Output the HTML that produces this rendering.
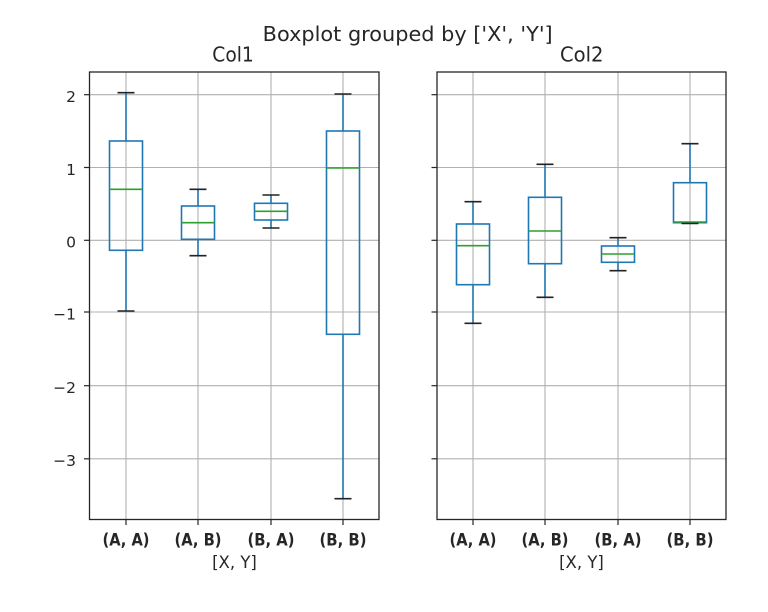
<!DOCTYPE html>
<html>
<head>
<meta charset="utf-8">
<style>
html,body{margin:0;padding:0;background:#fff;}
svg{display:block;}
text{font-family:"DejaVu Sans","Liberation Sans",sans-serif;fill:#262626;}
</style>
</head>
<body>
<svg width="768" height="612" viewBox="0 0 768 612" xmlns="http://www.w3.org/2000/svg">
<rect x="0" y="0" width="768" height="612" fill="#fff"/>

<!-- Titles -->
<text x="262.7" y="41" font-size="20.5" textLength="290" lengthAdjust="spacingAndGlyphs">Boxplot grouped by ['X', 'Y']</text>
<text x="212.3" y="61.7" font-size="20" textLength="41.5" lengthAdjust="spacingAndGlyphs">Col1</text>
<text x="560" y="61.7" font-size="20" textLength="43.5" lengthAdjust="spacingAndGlyphs">Col2</text>

<!-- ===== Left axes ===== -->
<g stroke="#b0b0b0" stroke-width="1.1" fill="none">
  <line x1="89.5" y1="94.7" x2="379" y2="94.7"/>
  <line x1="89.5" y1="167.5" x2="379" y2="167.5"/>
  <line x1="89.5" y1="240.3" x2="379" y2="240.3"/>
  <line x1="89.5" y1="312" x2="379" y2="312"/>
  <line x1="89.5" y1="385.7" x2="379" y2="385.7"/>
  <line x1="89.5" y1="458.8" x2="379" y2="458.8"/>
  <line x1="126" y1="72" x2="126" y2="519.5"/>
  <line x1="198" y1="72" x2="198" y2="519.5"/>
  <line x1="271" y1="72" x2="271" y2="519.5"/>
  <line x1="343" y1="72" x2="343" y2="519.5"/>
</g>

<!-- left boxes -->
<g stroke-width="1.6" fill="none">
  <!-- (A,A) -->
  <line x1="126" y1="92.7" x2="126" y2="141" stroke="#1f77b4"/>
  <line x1="126" y1="250.3" x2="126" y2="311" stroke="#1f77b4"/>
  <rect x="109.5" y="141" width="33" height="109.3" stroke="#1f77b4"/>
  <line x1="109.5" y1="189.3" x2="142.5" y2="189.3" stroke="#2ca02c"/>
  <line x1="117.5" y1="92.7" x2="134.5" y2="92.7" stroke="#222"/>
  <line x1="117.5" y1="311" x2="134.5" y2="311" stroke="#222"/>
  <!-- (A,B) -->
  <line x1="198" y1="189.3" x2="198" y2="206" stroke="#1f77b4"/>
  <line x1="198" y1="239.3" x2="198" y2="255.7" stroke="#1f77b4"/>
  <rect x="181.5" y="206" width="33" height="33.3" stroke="#1f77b4"/>
  <line x1="181.5" y1="222.7" x2="214.5" y2="222.7" stroke="#2ca02c"/>
  <line x1="189.5" y1="189.3" x2="206.5" y2="189.3" stroke="#222"/>
  <line x1="189.5" y1="255.7" x2="206.5" y2="255.7" stroke="#222"/>
  <!-- (B,A) -->
  <line x1="271" y1="195" x2="271" y2="203.3" stroke="#1f77b4"/>
  <line x1="271" y1="220" x2="271" y2="228" stroke="#1f77b4"/>
  <rect x="254.5" y="203.3" width="33" height="16.7" stroke="#1f77b4"/>
  <line x1="254.5" y1="211.3" x2="287.5" y2="211.3" stroke="#2ca02c"/>
  <line x1="262.5" y1="195" x2="279.5" y2="195" stroke="#222"/>
  <line x1="262.5" y1="228" x2="279.5" y2="228" stroke="#222"/>
  <!-- (B,B) -->
  <line x1="343" y1="94" x2="343" y2="131" stroke="#1f77b4"/>
  <line x1="343" y1="334.3" x2="343" y2="498.7" stroke="#1f77b4"/>
  <rect x="326.5" y="131" width="33" height="203.3" stroke="#1f77b4"/>
  <line x1="326.5" y1="168" x2="359.5" y2="168" stroke="#2ca02c"/>
  <line x1="334.5" y1="94" x2="351.5" y2="94" stroke="#222"/>
  <line x1="334.5" y1="498.7" x2="351.5" y2="498.7" stroke="#222"/>
</g>

<!-- left spines & ticks -->
<rect x="89.5" y="72" width="289.5" height="447.5" fill="none" stroke="#262626" stroke-width="1.3"/>
<g stroke="#262626" stroke-width="1.2">
  <line x1="84" y1="94.7" x2="89.5" y2="94.7"/>
  <line x1="84" y1="167.5" x2="89.5" y2="167.5"/>
  <line x1="84" y1="240.3" x2="89.5" y2="240.3"/>
  <line x1="84" y1="312" x2="89.5" y2="312"/>
  <line x1="84" y1="385.7" x2="89.5" y2="385.7"/>
  <line x1="84" y1="458.8" x2="89.5" y2="458.8"/>
  <line x1="126" y1="519.5" x2="126" y2="525"/>
  <line x1="198" y1="519.5" x2="198" y2="525"/>
  <line x1="271" y1="519.5" x2="271" y2="525"/>
  <line x1="343" y1="519.5" x2="343" y2="525"/>
</g>
<g font-size="15.5" text-anchor="end">
  <text x="76" y="102">2</text>
  <text x="76" y="174.8">1</text>
  <text x="76" y="247.6">0</text>
  <text x="76" y="319.3">−1</text>
  <text x="76" y="393">−2</text>
  <text x="76" y="466.1">−3</text>
</g>
<g font-size="16.5" font-weight="bold" text-anchor="middle">
  <text x="126" y="545.5" textLength="47" lengthAdjust="spacingAndGlyphs">(A, A)</text>
  <text x="198" y="545.5" textLength="47" lengthAdjust="spacingAndGlyphs">(A, B)</text>
  <text x="271" y="545.5" textLength="47" lengthAdjust="spacingAndGlyphs">(B, A)</text>
  <text x="343" y="545.5" textLength="47" lengthAdjust="spacingAndGlyphs">(B, B)</text>
</g>
<text x="234.5" y="568" font-size="16.5" text-anchor="middle">[X, Y]</text>

<!-- ===== Right axes ===== -->
<g stroke="#b0b0b0" stroke-width="1.1" fill="none">
  <line x1="437" y1="94.7" x2="726" y2="94.7"/>
  <line x1="437" y1="167.5" x2="726" y2="167.5"/>
  <line x1="437" y1="240.3" x2="726" y2="240.3"/>
  <line x1="437" y1="312" x2="726" y2="312"/>
  <line x1="437" y1="385.7" x2="726" y2="385.7"/>
  <line x1="437" y1="458.8" x2="726" y2="458.8"/>
  <line x1="473" y1="72" x2="473" y2="519.5"/>
  <line x1="545" y1="72" x2="545" y2="519.5"/>
  <line x1="618" y1="72" x2="618" y2="519.5"/>
  <line x1="690" y1="72" x2="690" y2="519.5"/>
</g>

<g stroke-width="1.6" fill="none">
  <!-- (A,A) -->
  <line x1="473" y1="201.7" x2="473" y2="224" stroke="#1f77b4"/>
  <line x1="473" y1="284.7" x2="473" y2="323.3" stroke="#1f77b4"/>
  <rect x="456.5" y="224" width="33" height="60.7" stroke="#1f77b4"/>
  <line x1="456.5" y1="245.7" x2="489.5" y2="245.7" stroke="#2ca02c"/>
  <line x1="464.5" y1="201.7" x2="481.5" y2="201.7" stroke="#222"/>
  <line x1="464.5" y1="323.3" x2="481.5" y2="323.3" stroke="#222"/>
  <!-- (A,B) -->
  <line x1="545" y1="164.3" x2="545" y2="197.3" stroke="#1f77b4"/>
  <line x1="545" y1="263.7" x2="545" y2="297.3" stroke="#1f77b4"/>
  <rect x="528.5" y="197.3" width="33" height="66.4" stroke="#1f77b4"/>
  <line x1="528.5" y1="231" x2="561.5" y2="231" stroke="#2ca02c"/>
  <line x1="536.5" y1="164.3" x2="553.5" y2="164.3" stroke="#222"/>
  <line x1="536.5" y1="297.3" x2="553.5" y2="297.3" stroke="#222"/>
  <!-- (B,A) -->
  <line x1="618" y1="237.7" x2="618" y2="246" stroke="#1f77b4"/>
  <line x1="618" y1="262.3" x2="618" y2="270.7" stroke="#1f77b4"/>
  <rect x="601.5" y="246" width="33" height="16.3" stroke="#1f77b4"/>
  <line x1="601.5" y1="254" x2="634.5" y2="254" stroke="#2ca02c"/>
  <line x1="609.5" y1="237.7" x2="626.5" y2="237.7" stroke="#222"/>
  <line x1="609.5" y1="270.7" x2="626.5" y2="270.7" stroke="#222"/>
  <!-- (B,B) -->
  <line x1="690" y1="143.7" x2="690" y2="182.7" stroke="#1f77b4"/>
  <rect x="673.5" y="182.7" width="33" height="40" stroke="#1f77b4"/>
  <line x1="673.5" y1="222" x2="706.5" y2="222" stroke="#2ca02c"/>
  <line x1="681.5" y1="143.7" x2="698.5" y2="143.7" stroke="#222"/>
  <line x1="681.5" y1="223.5" x2="698.5" y2="223.5" stroke="#222"/>
</g>

<rect x="437" y="72" width="289" height="447.5" fill="none" stroke="#262626" stroke-width="1.3"/>
<g stroke="#262626" stroke-width="1.2">
  <line x1="431.5" y1="94.7" x2="437" y2="94.7"/>
  <line x1="431.5" y1="167.5" x2="437" y2="167.5"/>
  <line x1="431.5" y1="240.3" x2="437" y2="240.3"/>
  <line x1="431.5" y1="312" x2="437" y2="312"/>
  <line x1="431.5" y1="385.7" x2="437" y2="385.7"/>
  <line x1="431.5" y1="458.8" x2="437" y2="458.8"/>
  <line x1="473" y1="519.5" x2="473" y2="525"/>
  <line x1="545" y1="519.5" x2="545" y2="525"/>
  <line x1="618" y1="519.5" x2="618" y2="525"/>
  <line x1="690" y1="519.5" x2="690" y2="525"/>
</g>
<g font-size="16.5" font-weight="bold" text-anchor="middle">
  <text x="473" y="545.5" textLength="47" lengthAdjust="spacingAndGlyphs">(A, A)</text>
  <text x="545" y="545.5" textLength="47" lengthAdjust="spacingAndGlyphs">(A, B)</text>
  <text x="618" y="545.5" textLength="47" lengthAdjust="spacingAndGlyphs">(B, A)</text>
  <text x="690" y="545.5" textLength="47" lengthAdjust="spacingAndGlyphs">(B, B)</text>
</g>
<text x="581.5" y="568" font-size="16.5" text-anchor="middle">[X, Y]</text>
</svg>
</body>
</html>
